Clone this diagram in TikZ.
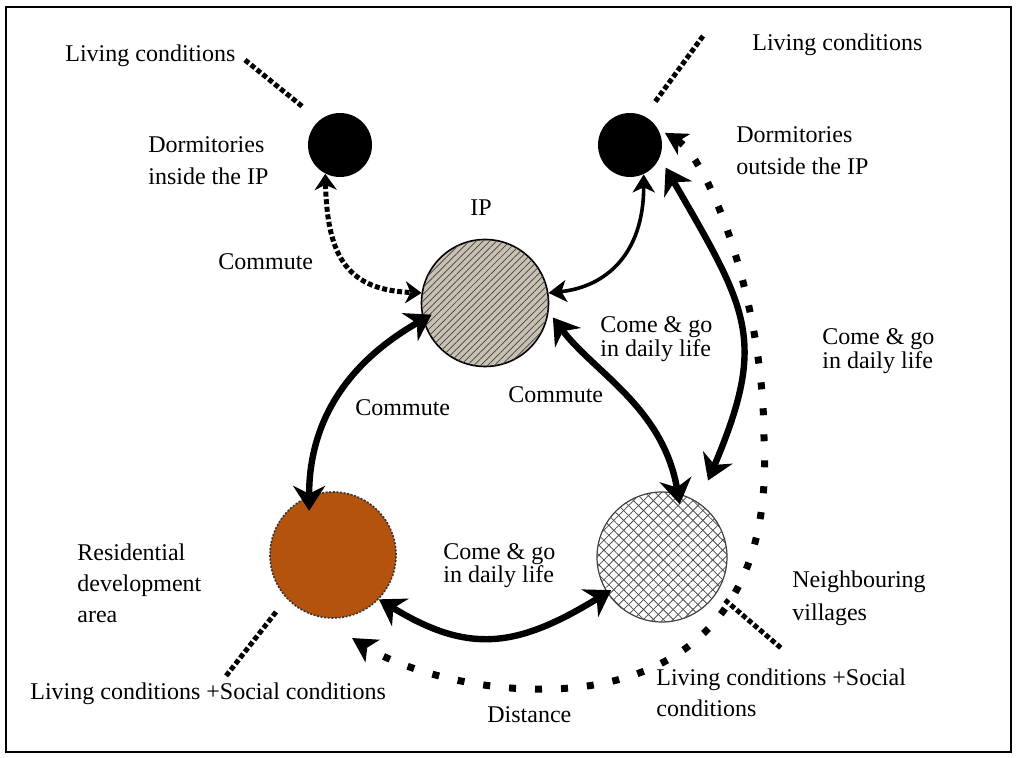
\documentclass[tikz,border=0pt]{standalone}
\usepackage{fontspec}
\setmainfont{Liberation Serif}
\usetikzlibrary{arrows.meta,patterns.meta}
\definecolor{ipfill}{RGB}{200,192,178}
\definecolor{resfill}{RGB}{180,83,14}
\newcommand\lbltext[2]{{\fontsize{12}{#1}\selectfont\begin{tabular}[t]{@{}l@{}}#2\end{tabular}}}
\begin{document}
\begin{tikzpicture}[x=0.5pt,y=-0.5pt,
  lab/.style={anchor=base west,inner sep=0pt},
  blackdot/.style={circle,fill=black,inner sep=0pt,minimum size=32pt},
  ipnode/.style={circle,draw=black,line width=0.8pt,fill=ipfill,inner sep=0pt,minimum size=63.5pt,
     postaction={pattern={Lines[angle=45,distance=2.4pt,line width=0.35pt]},pattern color=black!75}},
  nbnode/.style={circle,draw=black!75,line width=0.6pt,fill=white,inner sep=0pt,minimum size=65pt,
     postaction={pattern={Lines[angle=45,distance=3.5pt,line width=0.4pt]},pattern color=black!70},
     postaction={pattern={Lines[angle=-45,distance=3.5pt,line width=0.4pt]},pattern color=black!70}},
  resnode/.style={circle,draw=black!80,dash pattern=on 1pt off 0.8pt,line width=0.8pt,fill=resfill,inner sep=0pt,minimum size=63pt},
  thickarr/.style={line width=3.2pt,{Stealth[length=12.5pt,width=16pt,inset=4pt]}-{Stealth[length=12.5pt,width=16pt,inset=4pt]}},
  thinarr/.style={line width=1.8pt,{Stealth[length=9pt,width=11pt,inset=2.5pt]}-{Stealth[length=9pt,width=11pt,inset=2.5pt]}},
  densedot/.style={line width=2.5pt,dash pattern=on 2.5pt off 1.3pt},
  dotarr/.style={densedot,{Stealth[length=8pt,width=11pt,inset=2.5pt]}-{Stealth[length=8pt,width=11pt,inset=2.5pt]}},
  distarr/.style={line width=3.5pt,dash pattern=on 3.5pt off 9.5pt,{Stealth[length=11pt,width=12pt,inset=3pt]}-{Stealth[length=12pt,width=13pt,inset=3pt]}}
]
\useasboundingbox (0,0) rectangle (1016,758);
\draw[line width=1pt] (6,7) rectangle (1011,752);

% circles
\node[blackdot] (din) at (340,145) {};
\node[blackdot] (dout) at (630,145) {};
\node[ipnode] (ip) at (485,303) {};
\node[nbnode] (nb) at (662,557) {};
\node[resnode] (res) at (333,555) {};

% free coordinates
\coordinate (distmid) at (764,440);
\coordinate (distend) at (352,638);
\coordinate (tla) at (245,60);
\coordinate (tlb) at (303,107);
\coordinate (tra) at (703,36);
\coordinate (trb) at (655,102);
\coordinate (bla) at (276,612);
\coordinate (blb) at (226,676);
\coordinate (bra) at (725,600);
\coordinate (brb) at (781,648);

% dotted rays
\draw[densedot] (tla) -- (tlb);
\draw[densedot] (tra) -- (trb);
\draw[densedot] (bla) -- (blb);
\draw[densedot] (bra) -- (brb);

% connectors
\draw[dotarr] (din.-117) .. controls +(2,86) and +(-72,-3) .. (ip.171);
\draw[thinarr] (dout.-65) .. controls +(0,80) and +(57,-6) .. (ip.9);
\draw[thickarr,shorten <=-5pt,shorten >=-7.5pt] (ip.195) .. controls +(-70,40) and +(0,-80) .. (res.112);
\draw[thickarr,shorten <=3.5pt,shorten >=-5.5pt] (ip.-8) .. controls +(45,60) and +(-15,-86) .. (nb.76);
\draw[thickarr,shorten <=5.75pt,shorten >=12pt] (dout.-23) .. controls +(88.5,153) and +(69,-163) .. (nb.56);
\draw[thickarr,shorten >=-2.5pt] (res.-44) .. controls +(90,55) and +(-90,55) .. (nb.213);
\draw[distarr,shorten <=4pt] (dout.30) .. controls +(50,30) and +(0,-140) .. (distmid)
   .. controls +(16,320) and +(98,62) .. (distend);

% labels
\node[lab] (l1) at (65,62) {\lbltext{14}{Living conditions}};
\node[lab] (l2) at (752,51) {\lbltext{14}{Living conditions}};
\node[lab] (l3) at (148,153) {\lbltext{16}{Dormitories\\inside the IP}};
\node[lab] (l4) at (736,143) {\lbltext{16}{Dormitories\\outside the IP}};
\node[lab] (l5) at (470,216) {\lbltext{14}{IP}};
\node[lab] (l6) at (218,270) {\lbltext{14}{Commute}};
\node[lab] (l7) at (600,333) {\lbltext{11.5}{Come \& go\\in daily life}};
\node[lab] (l8) at (355,416) {\lbltext{14}{Commute}};
\node[lab] (l9) at (508,403) {\lbltext{14}{Commute}};
\node[lab] (l10) at (822,345) {\lbltext{10.5}{Come \& go\\in daily life}};
\node[lab] (l11) at (77,560) {\lbltext{15.5}{Residential\\development\\area}};
\node[lab] (l12) at (443,559) {\lbltext{11}{Come \& go\\in daily life}};
\node[lab] (l13) at (792,587) {\lbltext{16.5}{Neighbouring\\villages}};
\node[lab] (l14) at (30,699) {\lbltext{14}{Living conditions +Social conditions}};
\node[lab] (l15) at (487,722) {\lbltext{14}{Distance}};
\node[lab] (l16) at (656,685) {\lbltext{15.5}{Living conditions +Social\\conditions}};
\end{tikzpicture}
\end{document}
